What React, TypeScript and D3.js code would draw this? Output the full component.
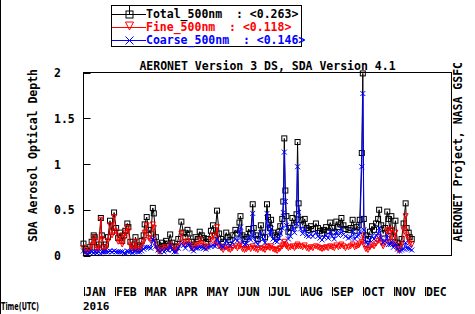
import React from "react";
import * as d3 from "d3";

const days = [0,2,4,6,8,10,11,13,15,17,18,20,22,24,26,28,30,32,34,36,38,40,41,43,44,46,48,50,51,53,55,57,59,60,62,64,66,68,69,71,73,75,77,79,81,83,85,87,89,91,93,96,98,100,102,104,106,108,110,112,114,116,118,120,122,125,127,129,131,133,135,137,140,142,144,146,149,151,153,154,156,158,160,162,164,166,167,169,171,174,176,178,180,181,183,184,186,188,190,192,193,195,196,197,198,199,201,203,205,207,209,210,211,213,215,217,219,221,223,225,228,230,232,234,236,238,240,242,244,246,248,250,252,253,255,257,260,262,264,266,268,270,271,273,274,275,277,279,281,283,285,287,289,290,292,294,296,298,299,301,302,304,306,308,310,312,314,316,317,319,320,322];
const total = [.13,.07,.05,.09,.15,.22,.20,.09,.12,.41,.22,.09,.12,.20,.38,.26,.47,.30,.19,.25,.16,.22,.27,.35,.31,.15,.08,.12,.20,.11,.09,.16,.22,.34,.42,.28,.24,.52,.46,.20,.12,.08,.14,.10,.16,.13,.23,.14,.10,.09,.18,.37,.25,.20,.28,.24,.15,.12,.20,.18,.26,.22,.19,.15,.18,.27,.33,.22,.49,.24,.18,.15,.25,.20,.17,.22,.28,.24,.36,.43,.22,.18,.20,.29,.24,.56,.30,.22,.18,.33,.25,.20,.56,.42,.30,.39,.25,.22,.20,.26,.32,.40,.59,1.28,.71,.43,.26,.30,.41,.33,.45,1.24,.57,.39,.33,.40,.30,.28,.32,.29,.35,.30,.27,.24,.28,.31,.27,.36,.30,.26,.37,.31,.34,.41,.33,.29,.28,.30,.39,.27,.31,.33,.39,1.12,1.99,.40,.22,.18,.26,.32,.28,.35,.40,.50,.33,.24,.30,.48,.40,.27,.43,.20,.38,.14,.10,.18,.35,.57,.30,.25,.20,.18];
const fine = [.08,.04,.03,.06,.11,.19,.16,.06,.08,.39,.18,.05,.08,.16,.33,.22,.42,.26,.15,.21,.12,.19,.25,.30,.27,.11,.05,.08,.15,.07,.05,.11,.15,.25,.33,.19,.16,.34,.30,.10,.06,.04,.08,.06,.09,.07,.12,.08,.06,.05,.10,.24,.14,.12,.16,.12,.08,.07,.12,.10,.17,.13,.11,.08,.09,.17,.22,.12,.31,.10,.08,.06,.09,.07,.06,.08,.10,.08,.10,.12,.07,.06,.07,.09,.07,.10,.08,.07,.06,.08,.07,.06,.10,.09,.08,.10,.07,.06,.05,.07,.08,.10,.12,.15,.12,.10,.08,.09,.10,.08,.10,.12,.10,.10,.09,.11,.08,.07,.09,.08,.10,.09,.08,.07,.08,.09,.08,.10,.09,.08,.11,.09,.10,.12,.10,.08,.09,.10,.12,.09,.10,.11,.13,.15,.22,.12,.07,.06,.09,.11,.10,.13,.16,.20,.14,.10,.14,.26,.28,.15,.28,.11,.25,.07,.05,.12,.28,.43,.22,.17,.13,.12];
const coarse = [.05,.03,.02,.03,.04,.03,.04,.03,.04,.02,.04,.04,.04,.04,.05,.04,.05,.04,.04,.04,.04,.03,.02,.05,.04,.04,.03,.04,.05,.04,.04,.05,.07,.09,.09,.09,.08,.18,.16,.10,.06,.04,.06,.04,.07,.06,.11,.06,.04,.04,.08,.13,.11,.08,.12,.12,.07,.05,.08,.08,.09,.09,.08,.07,.09,.10,.11,.10,.18,.14,.10,.09,.16,.13,.11,.14,.18,.16,.26,.31,.15,.12,.13,.20,.17,.46,.22,.15,.12,.25,.18,.14,.46,.33,.22,.29,.18,.16,.15,.19,.24,.30,.47,1.13,.59,.33,.18,.21,.31,.25,.35,.97,.47,.29,.24,.29,.22,.21,.23,.21,.25,.21,.19,.17,.20,.22,.19,.26,.21,.18,.26,.22,.24,.29,.23,.21,.19,.20,.27,.18,.21,.22,.26,.97,1.77,.28,.15,.12,.17,.21,.18,.22,.24,.30,.19,.14,.16,.22,.12,.12,.15,.09,.13,.07,.05,.06,.07,.14,.08,.08,.07,.06];

const months = ["JAN","FEB","MAR","APR","MAY","JUN","JUL","AUG","SEP","OCT","NOV","DEC"];
const yTicks = [0, 0.5, 1, 1.5, 2];
const yTickLabels = ["0", "0.5", "1", "1.5", "2"];
const legendNames = ["Total_500nm  : <0.263>", "Fine_500nm  : <0.118>", "Coarse_500nm  : <0.146>"];

const FONT = "'DejaVu Sans Mono', monospace";
const start = new Date(2016, 0, 1);

export default function App() {
  const x = d3.scaleTime().domain([start, new Date(2016, 11, 27)]).range([83.5, 451.5]);
  const y = d3.scaleLinear().domain([0, 2]).range([255.5, 72.5]);
  const dates = days.map((d) => d3.timeDay.offset(start, d));
  const line = d3.line<number>().x((_, i) => x(dates[i])).y((v) => y(v));

  const square = (cx: number, cy: number, s: number, key: any) => (
    <rect key={key} x={cx - s / 2} y={cy - s / 2} width={s} height={s} fill="none" stroke="#000" strokeWidth={1} />
  );
  const tri = (cx: number, cy: number, s: number, key: any) => (
    <path key={key} d={`M${cx - s / 2},${cy - s / 2}L${cx + s / 2},${cy - s / 2}L${cx},${cy + s / 2}Z`} fill="none" stroke="#f00" strokeWidth={1} />
  );
  const cross = (cx: number, cy: number, s: number, key: any) => (
    <path key={key} d={`M${cx - s / 2},${cy - s / 2}L${cx + s / 2},${cy + s / 2}M${cx + s / 2},${cy - s / 2}L${cx - s / 2},${cy + s / 2}`} fill="none" stroke="#00f" strokeWidth={1} />
  );

  const colors = ["#000", "#f00", "#00f"];
  const rowY = [14, 27, 40];

  return (
    <svg width={475} height={314} style={{ position: "absolute", left: 0, top: 0, background: "#fff" }}>
      <rect x={0} y={0} width={475} height={314} fill="#fff" />
      <line x1={0.5} y1={0} x2={0.5} y2={314} stroke="#000" />
      {/* legend */}
      <rect x={111.5} y={5.5} width={190} height={41} fill="#fff" stroke="#000" />
      {legendNames.map((n, i) => (
        <g key={n}>
          <line x1={112} x2={146} y1={rowY[i] + 0.5} y2={rowY[i] + 0.5} stroke={colors[i]} />
          {i === 0 && <line x1={129.5} x2={129.5} y1={6} y2={rowY[i]} stroke="#000" />}
          {i === 0 && square(129.5, rowY[i] + 0.5, 7, "ls")}
          {i === 1 && tri(129.5, rowY[i] - 1, 8, "lt")}
          {i === 2 && cross(129.5, rowY[i] + 0.5, 8, "lc")}
          <text x={146} y={rowY[i] + 4} fontFamily={FONT} fontWeight="bold" fontSize={11.5} fill={colors[i]}>
            {n.replace(/ /g, "\u00a0")}
          </text>
        </g>
      ))}
      {/* title */}
      <text x={267.5} y={69.5} textAnchor="middle" fontFamily={FONT} fontWeight="bold" fontSize={11.5}>
        AERONET Version 3 DS, SDA Version 4.1
      </text>
      {/* axis labels */}
      <text transform="translate(36.5,155.5) rotate(-90)" textAnchor="middle" fontFamily={FONT} fontWeight="bold" fontSize={11.5}>
        SDA Aerosol Optical Depth
      </text>
      <text transform="translate(461.5,152) rotate(-90)" textAnchor="middle" fontFamily={FONT} fontWeight="bold" fontSize={11.5}>
        AERONET Project, NASA GSFC
      </text>
      {yTicks.map((t, i) => (
        <g key={t}>
          <line x1={83.5} x2={90.5} y1={Math.round(y(t)) + 0.5} y2={Math.round(y(t)) + 0.5} stroke="#000" />
          <text x={54} y={y(t) + 4.5} fontFamily={FONT} fontWeight="bold" fontSize={11.5}>
            {yTickLabels[i]}
          </text>
        </g>
      ))}
      {months.map((m, i) => {
        const mx = Math.round(x(new Date(2016, i, 1))) + 0.5;
        return (
          <g key={m}>
            <line x1={mx} x2={mx} y1={287} y2={296} stroke="#000" />
            <text x={mx + 0.5} y={296} fontFamily={FONT} fontWeight="bold" fontSize={11.5}>
              {m}
            </text>
          </g>
        );
      })}
      <text x={83} y={310} fontFamily={FONT} fontWeight="bold" fontSize={11}>2016</text>
      <text x={1} y={310} fontFamily="'DejaVu Sans', sans-serif" fontWeight="bold" fontSize={11} textLength={38} lengthAdjust="spacingAndGlyphs">Time(UTC)</text>
      {/* data */}
      <path d={line(total) || ""} fill="none" stroke="#000" strokeWidth={1} />
      {total.map((v, i) => square(x(dates[i]), y(v), 5, "s" + i))}
      <path d={line(fine) || ""} fill="none" stroke="#f00" strokeWidth={1} />
      {fine.map((v, i) => tri(x(dates[i]), y(v), 5, "t" + i))}
      <path d={line(coarse) || ""} fill="none" stroke="#00f" strokeWidth={1} />
      {coarse.map((v, i) => cross(x(dates[i]), y(v), 5, "c" + i))}
      {/* frame */}
      <rect x={83.5} y={72.5} width={368} height={183} fill="none" stroke="#000" />
    </svg>
  );
}
